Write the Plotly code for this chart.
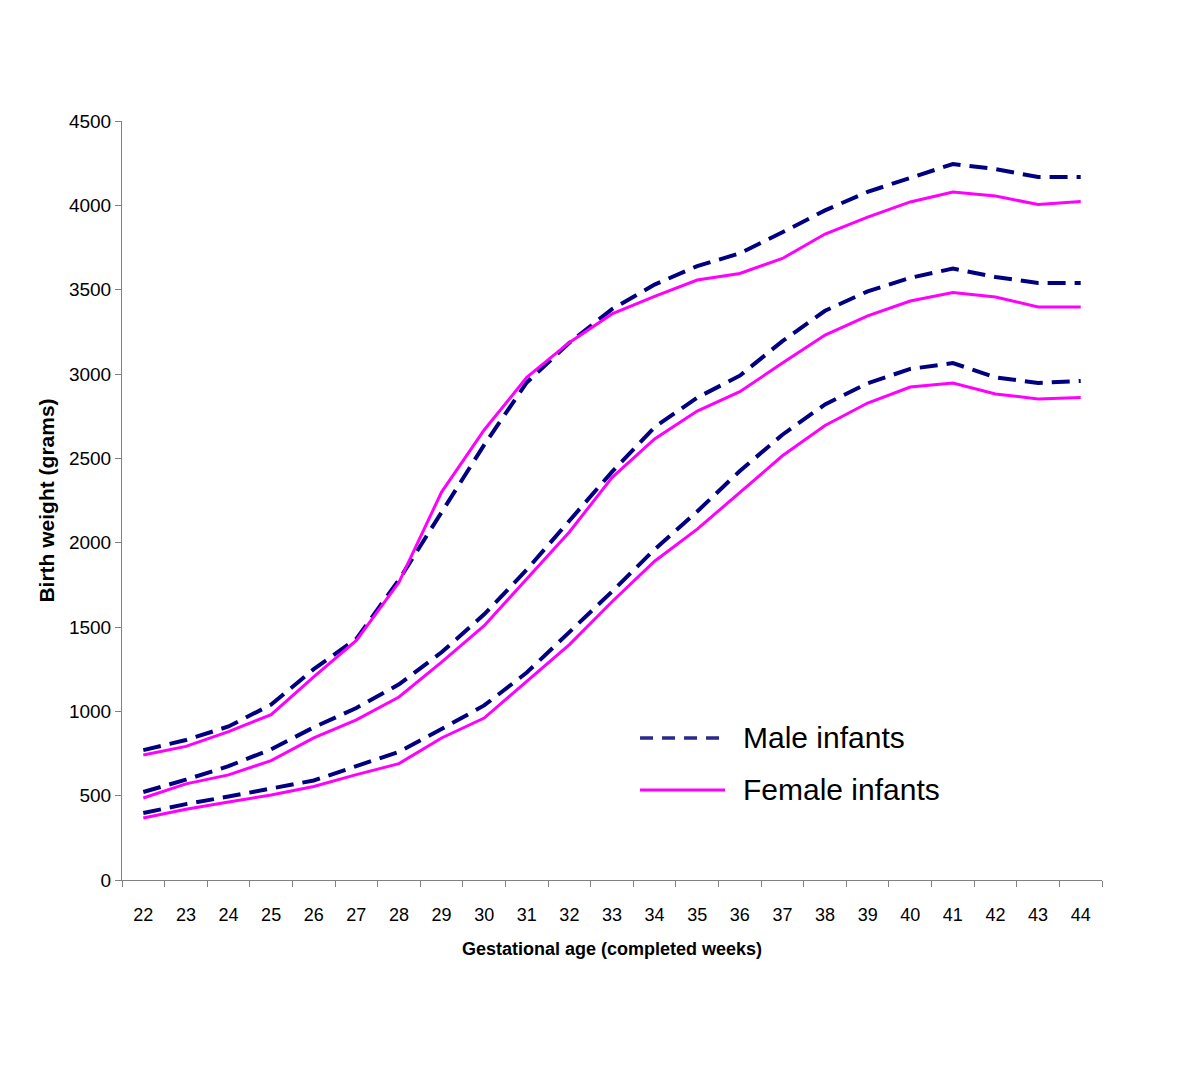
import plotly.graph_objects as go

# gestational age categories (completed weeks)
weeks = [str(w) for w in range(22, 45)]

# birth weight curves (grams)
male_upper = [770, 830, 910, 1040, 1250, 1430, 1780, 2180, 2580, 2950, 3185, 3385, 3530,
              3640, 3715, 3840, 3970, 4080, 4165, 4245, 4215, 4168, 4168]
male_middle = [522, 595, 675, 775, 905, 1020, 1160, 1350, 1575, 1840, 2130, 2420, 2685,
               2860, 2990, 3195, 3375, 3490, 3570, 3625, 3575, 3540, 3540]
male_lower = [397, 450, 495, 545, 590, 675, 760, 895, 1035, 1230, 1470, 1710, 1960,
              2185, 2425, 2640, 2820, 2945, 3030, 3065, 2980, 2947, 2959]
female_upper = [741, 792, 880, 980, 1204, 1420, 1765, 2300, 2668, 2980, 3187, 3356, 3460,
                3557, 3596, 3685, 3830, 3930, 4020, 4079, 4055, 4005, 4022]
female_middle = [486, 570, 623, 708, 842, 949, 1085, 1292, 1508, 1785, 2063, 2386, 2615,
                 2780, 2895, 3065, 3231, 3345, 3433, 3483, 3457, 3397, 3397]
female_lower = [368, 420, 462, 504, 554, 625, 690, 842, 960, 1176, 1396, 1650, 1890,
                2080, 2300, 2515, 2695, 2828, 2923, 2947, 2882, 2852, 2860]

MALE = "#000080"
FEMALE = "#FF00FF"

fig = go.Figure()
for ys in [male_upper, male_middle, male_lower]:
    fig.add_trace(go.Scatter(x=weeks, y=ys, mode="lines", showlegend=False,
                             line=dict(color=MALE, width=4, dash="18px,9px")))
for ys in [female_upper, female_middle, female_lower]:
    fig.add_trace(go.Scatter(x=weeks, y=ys, mode="lines", showlegend=False,
                             line=dict(color=FEMALE, width=3)))

# hand-drawn legend, placed like the original (long sample lines)
legend_items = [("Male infants", "#2a2a8a", 3.5, "dash", 0.1871),
                ("Female infants", FEMALE, 3, "solid", 0.1186)]
for label, col, w, dash, yp in legend_items:
    fig.add_shape(type="line", xref="paper", yref="paper", x0=0.5286, x1=0.6153, y0=yp, y1=yp,
                  line=dict(color=col, width=w, dash="13px,9px" if dash == "dash" else "solid"))
    fig.add_annotation(x=0.6316, y=yp, xref="paper", yref="paper", text=label, showarrow=False,
                       xanchor="left", yanchor="middle",
                       font=dict(family="Liberation Sans, Arial", size=30, color="black"))

fig.update_layout(
    width=1199, height=1090,
    margin=dict(l=114, r=105, t=113, b=218),
    plot_bgcolor="white", paper_bgcolor="white",
    font=dict(family="Liberation Sans, Arial", color="black"),
)
fig.update_xaxes(
    type="category", range=[-0.5, 22.5], showgrid=False, zeroline=False,
    showline=True, linecolor="#808080", linewidth=1,
    ticks="outside", tickson="boundaries", ticklen=6, tickcolor="#808080",
    ticklabelstandoff=18,
    tickfont=dict(family="Liberation Sans, Arial", size=18),
    title=dict(text="<b>Gestational age (completed weeks)</b>", standoff=18,
               font=dict(family="Liberation Sans, Arial", size=18)),
)
fig.update_yaxes(
    range=[0, 4500], dtick=500, showgrid=False, zeroline=False,
    showline=True, linecolor="#808080", linewidth=1,
    ticks="outside", ticklen=6, tickcolor="#808080",
    tickfont=dict(family="Liberation Sans, Arial", size=19),
    title=dict(text="<b>Birth weight (grams)</b>", standoff=8,
               font=dict(family="Liberation Sans, Arial", size=21)),
)

fig.write_html("out.html")
